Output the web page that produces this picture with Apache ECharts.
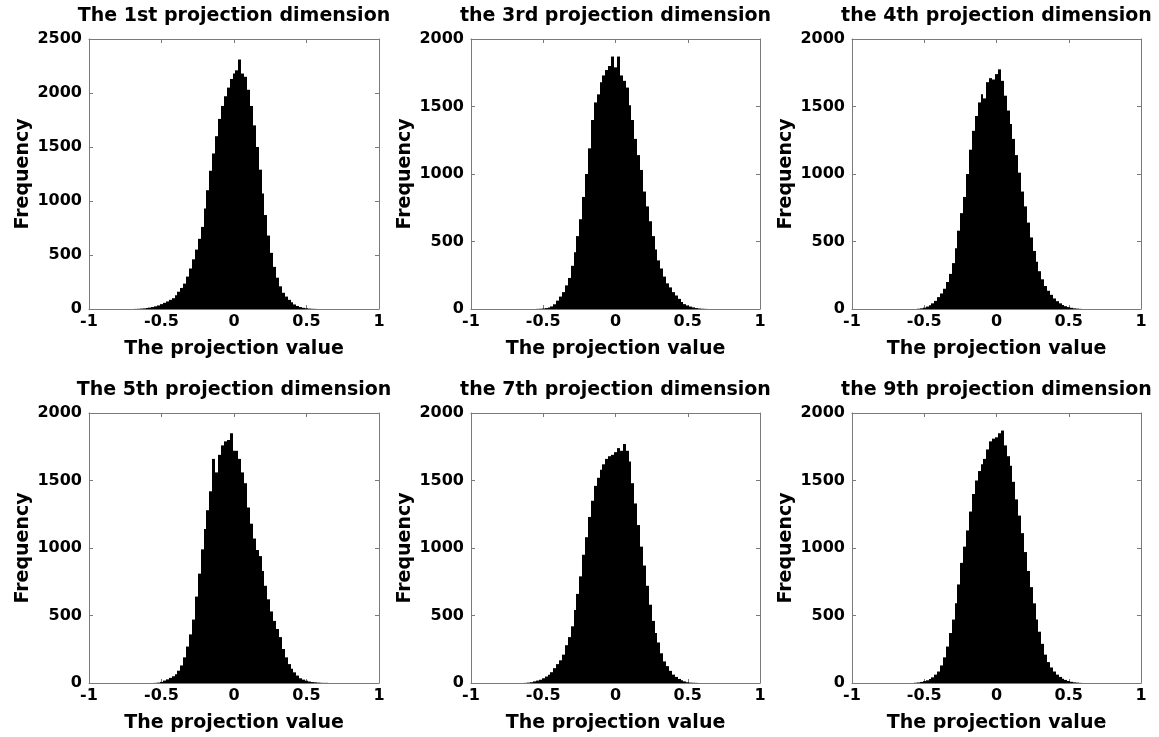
<!DOCTYPE html>
<html>
<head>
    <meta charset="utf-8">
    <title>Projection histograms</title>
    <script src="https://cdn.jsdelivr.net/npm/echarts@6/dist/echarts.min.js"></script>
    <style>
        *{margin: 0;padding: 0;}
        body{background: #fff;}
    </style>
</head>
<body>
    <div id="main" style="width: 1159px;height:737px;"></div>

    <script type="text/javascript">
        // bin centres (width 0.02), shared by every panel
        var binCenters = [
            -0.70, -0.68, -0.66, -0.64, -0.62, -0.60, -0.58, -0.56, -0.54, -0.52,
            -0.50, -0.48, -0.46, -0.44, -0.42, -0.40, -0.38, -0.36, -0.34, -0.32,
            -0.30, -0.28, -0.26, -0.24, -0.22, -0.20, -0.18, -0.16, -0.14, -0.12,
            -0.10, -0.08, -0.06, -0.04, -0.02, 0.00, 0.02, 0.04, 0.06, 0.08,
            0.10, 0.12, 0.14, 0.16, 0.18, 0.20, 0.22, 0.24, 0.26, 0.28,
            0.30, 0.32, 0.34, 0.36, 0.38, 0.40, 0.42, 0.44, 0.46, 0.48,
            0.50, 0.52, 0.54, 0.56, 0.58, 0.60, 0.62, 0.64, 0.66, 0.68,
            0.70
        ];
        var binWidth = 0.02;

        var dim1 = [
            0, 1, 2, 4, 6, 9, 13, 18, 25, 33,
            45, 57, 70, 85, 100, 128, 160, 195, 235, 300,
            375, 460, 550, 650, 760, 930, 1100, 1280, 1440, 1600,
            1760, 1880, 1970, 2050, 2130, 2180, 2210, 2310, 2180, 2150,
            2030, 1880, 1700, 1500, 1290, 1070, 870, 680, 520, 390,
            290, 210, 150, 115, 85, 62, 42, 28, 18, 11,
            7, 4, 2, 1, 0, 0, 0, 0, 0, 0,
            0
        ];
        var dim3 = [
            0, 0, 0, 0, 0, 0, 0, 0, 1, 2,
            4, 7, 12, 19, 35, 62, 92, 125, 175, 230,
            320, 420, 540, 665, 830, 1000, 1190, 1400, 1530, 1590,
            1680, 1730, 1770, 1800, 1870, 1790, 1870, 1730, 1690, 1640,
            1510, 1400, 1260, 1140, 1030, 870, 760, 650, 540, 440,
            360, 300, 240, 190, 160, 125, 100, 75, 52, 36,
            26, 18, 12, 7, 4, 2, 1, 0, 0, 0,
            0
        ];
        var dim4 = [
            0, 0, 0, 0, 0, 0, 0, 0, 2, 5,
            10, 18, 28, 42, 60, 88, 115, 150, 200, 260,
            340, 450, 580, 710, 830, 1000, 1180, 1320, 1430, 1530,
            1590, 1560, 1680, 1710, 1700, 1740, 1775, 1690, 1580, 1470,
            1370, 1260, 1140, 1010, 870, 760, 640, 530, 430, 350,
            280, 220, 170, 135, 105, 78, 58, 42, 30, 21,
            14, 9, 5, 3, 1, 0, 0, 0, 0, 0,
            0
        ];
        var dim5 = [
            0, 0, 0, 0, 0, 0, 0, 0, 1, 3,
            8, 18, 27, 38, 50, 65, 91, 130, 190, 270,
            360, 470, 640, 810, 990, 1140, 1280, 1420, 1660, 1560,
            1690, 1760, 1790, 1800, 1850, 1720, 1720, 1660, 1560, 1480,
            1300, 1180, 1070, 985, 940, 830, 720, 620, 530, 460,
            400, 340, 252, 190, 140, 105, 79, 55, 35, 25,
            17, 11, 7, 5, 3, 2, 1, 1, 0, 0,
            0
        ];
        var dim7 = [
            0, 0, 0, 0, 1, 3, 6, 12, 18, 24,
            35, 48, 62, 80, 110, 140, 168, 210, 280, 340,
            420, 540, 660, 790, 950, 1080, 1230, 1350, 1460, 1520,
            1580, 1620, 1660, 1680, 1690, 1710, 1740, 1720, 1770, 1720,
            1640, 1480, 1330, 1170, 1010, 870, 720, 580, 460, 370,
            300, 220, 160, 125, 90, 62, 45, 30, 20, 12,
            6, 3, 2, 1, 0, 0, 0, 0, 0, 0,
            0
        ];
        var dim9 = [
            0, 0, 0, 0, 0, 0, 0, 2, 4, 8,
            14, 20, 30, 42, 62, 85, 130, 190, 270, 370,
            470, 590, 730, 890, 1010, 1130, 1270, 1400, 1500, 1570,
            1620, 1660, 1730, 1790, 1810, 1820, 1850, 1870, 1760, 1680,
            1610, 1490, 1360, 1240, 1110, 970, 830, 710, 590, 470,
            380, 290, 210, 155, 115, 85, 62, 45, 32, 23,
            15, 9, 5, 3, 1, 0, 0, 0, 0, 0,
            0
        ];

        var titles = [
            'The 1st projection dimension', 'the 3rd projection dimension', 'the 4th projection dimension',
            'The 5th projection dimension', 'the 7th projection dimension', 'the 9th projection dimension'
        ];
        var counts = [dim1, dim3, dim4, dim5, dim7, dim9];
        var yMax = [2500, 2000, 2000, 2000, 2000, 2000];

        // plot boxes in pixels
        var boxes = [
            {left: 89, top: 39, width: 290, height: 270},
            {left: 471, top: 39, width: 289, height: 270},
            {left: 852, top: 39, width: 289, height: 270},
            {left: 89, top: 413, width: 290, height: 270},
            {left: 471, top: 413, width: 289, height: 270},
            {left: 852, top: 413, width: 289, height: 270}
        ];

        var font = 'DejaVu Sans';
        var boxColor = '#7a7a7a';

        // one black rectangle per bin, edges snapped to whole pixels so neighbours join
        function renderBin(params, api) {
            var c = api.value(0), h = api.value(1);
            if (!h) return null;
            var p0 = api.coord([c - binWidth / 2, h]);
            var p1 = api.coord([c + binWidth / 2, 0]);
            var x0 = Math.round(p0[0]), x1 = Math.round(p1[0]);
            return {
                type: 'rect',
                shape: {x: x0, y: p0[1], width: x1 - x0, height: p1[1] - p0[1]},
                style: {fill: '#000'}
            };
        }

        var grid = [], xAxis = [], yAxis = [], series = [], title = [];
        var tick = {show: true, inside: true, length: 4, lineStyle: {color: boxColor, width: 1}};
        var line = {show: true, onZero: false, lineStyle: {color: boxColor, width: 1}};
        var labelStyle = {color: '#000', fontFamily: font, fontWeight: 'bold', fontSize: 16};
        var nameStyle = {color: '#000', fontFamily: font, fontWeight: 'bold', fontSize: 19};
        var plain = function (v) { return String(v); };

        for (var i = 0; i < 6; i++) {
            var b = boxes[i];
            grid.push({left: b.left, top: b.top, width: b.width, height: b.height});
            title.push({
                text: titles[i],
                left: b.left + b.width / 2,
                top: b.top - 32,
                textAlign: 'center',
                padding: 0,
                textStyle: nameStyle
            });
            // bottom + mirrored top x axis
            xAxis.push({
                type: 'value', gridIndex: i, position: 'bottom', min: -1, max: 1, interval: 0.5,
                name: 'The projection value', nameLocation: 'middle', nameGap: 31,
                nameTextStyle: nameStyle,
                axisLine: line, axisTick: tick, splitLine: {show: false},
                axisLabel: Object.assign({margin: 5, formatter: plain}, labelStyle)
            });
            xAxis.push({
                type: 'value', gridIndex: i, position: 'top', min: -1, max: 1, interval: 0.5,
                axisLine: line, axisTick: tick, splitLine: {show: false}, axisLabel: {show: false}
            });
            // left + mirrored right y axis
            yAxis.push({
                type: 'value', gridIndex: i, position: 'left', min: 0, max: yMax[i], interval: 500,
                name: 'Frequency', nameLocation: 'middle', nameGap: 56,
                nameTextStyle: nameStyle,
                axisLine: line, axisTick: tick, splitLine: {show: false},
                axisLabel: Object.assign({margin: 7, formatter: plain}, labelStyle)
            });
            yAxis.push({
                type: 'value', gridIndex: i, position: 'right', min: 0, max: yMax[i], interval: 500,
                axisLine: line, axisTick: tick, splitLine: {show: false}, axisLabel: {show: false}
            });
            series.push({
                type: 'custom',
                xAxisIndex: 2 * i,
                yAxisIndex: 2 * i,
                renderItem: renderBin,
                silent: true,
                z: 1,
                data: binCenters.map(function (c, k) { return [c, counts[i][k]]; })
            });
        }

        var myChart = echarts.init(document.getElementById('main'));
        myChart.setOption({
            animation: false,
            backgroundColor: '#fff',
            title: title,
            grid: grid,
            xAxis: xAxis,
            yAxis: yAxis,
            series: series
        });
    </script>
</body>
</html>
